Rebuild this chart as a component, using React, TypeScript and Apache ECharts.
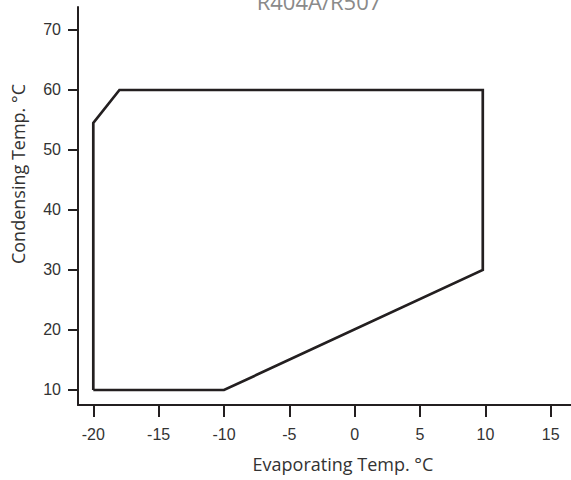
import React, { useEffect, useRef } from "react";
import * as echarts from "echarts";

const evapTemps = [-20, -10, 9.8, 9.8, -18, -20, -20];
const condTemps = [10, 10, 30, 60, 60, 54.5, 10];
const xTicks = [-20, -15, -10, -5, 0, 5, 10, 15];
const yTicks = [10, 20, 30, 40, 50, 60, 70];
const titleText = "R404A/R507";
const xName = "Evaporating Temp. °C";
const yName = "Condensing Temp. °C";

export default function App() {
  const ref = useRef<HTMLDivElement>(null);
  useEffect(() => {
    if (!ref.current) return;
    const chart = echarts.init(ref.current, null, { renderer: "svg" });
    const axisColor = "#231f20";
    const labelStyle = {
      color: "#333",
      fontSize: 16,
      fontFamily: "'Liberation Sans', Arial, sans-serif",
    };
    chart.setOption({
      animation: false,
      backgroundColor: "#fff",
      title: {
        text: titleText,
        left: 314,
        top: -15,
        textAlign: "center",
        textStyle: {
          color: "#8a8a8a",
          fontSize: 22,
          fontWeight: "normal",
          fontFamily: "'Open Sans', sans-serif",
        },
      },
      grid: { left: 78, right: 0, top: 7, bottom: 75, containLabel: false },
      xAxis: {
        type: "value",
        min: -21.17,
        max: 16.55,
        axisLine: { show: true, onZero: false, lineStyle: { color: axisColor, width: 2 } },
        axisTick: { show: true, length: 12, customValues: xTicks, lineStyle: { color: axisColor, width: 2 } },
        axisLabel: { show: true, margin: 21, customValues: xTicks, ...labelStyle },
        splitLine: { show: false },
      },
      yAxis: {
        type: "value",
        min: 7.5,
        max: 73.83,
        axisLine: { show: true, onZero: false, lineStyle: { color: axisColor, width: 2 } },
        axisTick: { show: true, length: 10, customValues: yTicks, lineStyle: { color: axisColor, width: 2 } },
        axisLabel: { show: true, margin: 17, customValues: yTicks, ...labelStyle },
        splitLine: { show: false },
      },
      graphic: [
        {
          type: "text",
          x: 343,
          y: 464,
          style: {
            text: xName,
            fill: "#333",
            fontSize: 18,
            fontFamily: "'Open Sans', sans-serif",
            textAlign: "center",
            textVerticalAlign: "middle",
          },
        },
        {
          type: "text",
          x: 18,
          y: 174,
          rotation: Math.PI / 2,
          style: {
            text: yName,
            fill: "#333",
            fontSize: 18,
            fontFamily: "'Open Sans', sans-serif",
            textAlign: "center",
            textVerticalAlign: "middle",
          },
        },
      ],
      series: [
        {
          type: "line",
          data: evapTemps.map((x, i) => [x, condTemps[i]]),
          symbol: "none",
          lineStyle: { color: axisColor, width: 2.7, join: "miter" },
          silent: true,
        },
      ],
    });
    return () => chart.dispose();
  }, []);
  return <div ref={ref} style={{ width: 571, height: 480, position: "absolute", left: 0, top: 0 }} />;
}
